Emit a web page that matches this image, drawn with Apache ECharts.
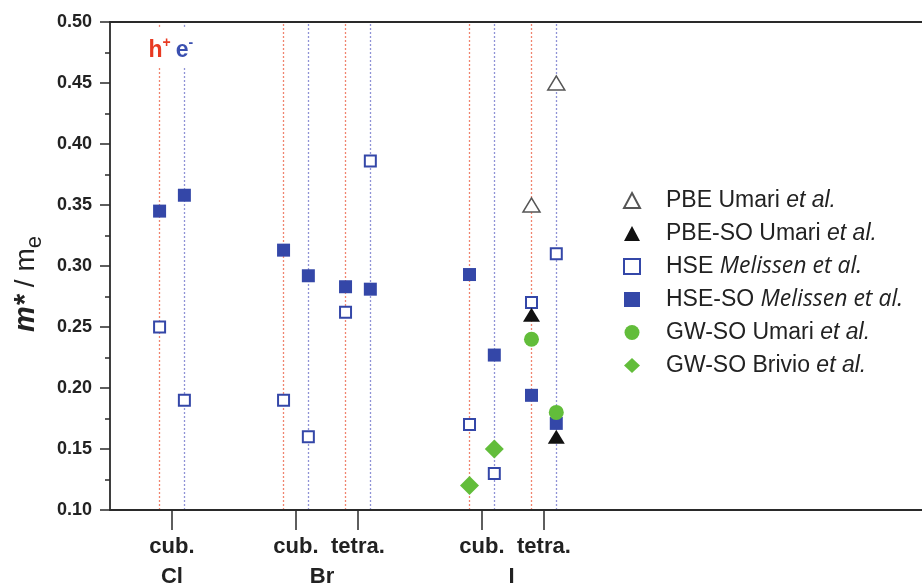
<!DOCTYPE html>
<html>
<head>
<meta charset="utf-8">
<script src="https://cdn.jsdelivr.net/npm/echarts@6/dist/echarts.min.js"></script>
<style>html,body{margin:0;padding:0;background:#fff}#c{width:922px;height:588px}</style>
</head>
<body>
<div id="c"></div>
<script>
// ---- data ----
const structureLabels = ['cub.', 'cub.', 'tetra.', 'cub.', 'tetra.'];
const structurePos = [1, 3, 4, 6, 7];
const halideLabels = ['Cl', 'Br', 'I'];
const halidePos = [1, 3.42, 6.48];
const carriers = ['h', 'e'];           // each structure: hole (red) then electron (blue)
const carrierShift = [-0.2, 0.2];
// columns: Cl-cub h,e | Br-cub h,e | Br-tetra h,e | I-cub h,e | I-tetra h,e
const pbeUmari     = [null, null, null, null, null, null, null, null, 0.35, 0.45];
const pbeSoUmari   = [null, null, null, null, null, null, null, null, 0.26, 0.16];
const hseMelissen  = [0.25, 0.19, 0.19, 0.16, 0.262, 0.386, 0.17, 0.13, 0.27, 0.31];
const hseSoMelissen= [0.345, 0.358, 0.313, 0.292, 0.283, 0.281, 0.293, 0.227, 0.194, 0.171];
const gwSoUmari    = [null, null, null, null, null, null, null, null, 0.24, 0.18];
const gwSoBrivio   = [null, null, null, null, null, null, 0.12, 0.15, null, null];

// column x positions
const colX = [];
structurePos.forEach(p => carrierShift.forEach(s => colX.push(p + s)));
function toPts(arr) {
  const out = [];
  arr.forEach((v, i) => { if (v != null) out.push([colX[i], v]); });
  return out;
}

const RED = '#f0846f', BLUE = '#8f92d6';
const blue = '#3447a8', green = '#62bd3a';

// guide lines
const guideLines = [];
colX.forEach((x, i) => {
  const col = i % 2 === 0 ? RED : BLUE;
  const ls = { color: col, type: [2, 2], width: 1.3 };
  if (i < 2) {
    guideLines.push([{ coord: [x, 0.10], lineStyle: ls }, { coord: [x, 0.463] }]);
    guideLines.push([{ coord: [x, 0.496], lineStyle: ls }, { coord: [x, 0.50] }]);
  } else {
    guideLines.push([{ coord: [x, 0.10], lineStyle: ls }, { coord: [x, 0.50] }]);
  }
});

const legendNames = {
  'PBE Umari': '{sp|}PBE Umari {i|et al.}',
  'PBE-SO Umari': '{sp|}PBE-SO Umari {i|et al.}',
  'HSE Melissen': '{sp|}HSE {m|Melissen et al.}',
  'HSE-SO Melissen': '{sp|}HSE-SO {m|Melissen et al.}',
  'GW-SO Umari': '{sp|}GW-SO Umari {i|et al.}',
  'GW-SO Brivio': '{sp|}GW-SO Brivio {i|et al.}'
};

const chart = echarts.init(document.getElementById('c'), null, { renderer: 'canvas' });
const txt = '#222';
chart.setOption({
  animation: false,
  backgroundColor: '#fff',
  grid: { left: 110, top: 22, right: 0, bottom: 74 },
  legend: {
    data: Object.keys(legendNames),
    orient: 'vertical',
    left: 618, top: 184,
    itemWidth: 16, itemHeight: 15, itemGap: 10,
    formatter: n => legendNames[n],
    textStyle: {
      fontFamily: 'Liberation Sans, Arial', fontSize: 23, color: txt, lineHeight: 22,
      rich: {
        sp: { width: 21, lineHeight: 22 },
        i: { fontStyle: 'italic', fontSize: 23, lineHeight: 22, fontFamily: 'Liberation Sans, Arial', color: txt },
        m: { fontStyle: 'italic', fontSize: 23, lineHeight: 22, fontFamily: 'Open Sans, Liberation Sans', color: txt }
      }
    },
    selectedMode: false
  },
  xAxis: [
    {
      type: 'value', min: 0, max: 13.1, position: 'bottom',
      axisLine: { show: true, onZero: false, lineStyle: { color: '#2a2a2a', width: 1.8 } },
      axisTick: { show: true, customValues: structurePos, length: 20, lineStyle: { color: '#2a2a2a', width: 1.5 } },
      axisLabel: {
        customValues: structurePos, margin: 26,
        formatter: v => structureLabels[structurePos.indexOf(v)] || '',
        fontFamily: 'Liberation Sans, Arial', fontWeight: 'bold', fontSize: 22, color: txt
      },
      splitLine: { show: false }
    },
    {
      type: 'value', min: 0, max: 13.1, position: 'bottom',
      axisLine: { show: false }, axisTick: { show: false },
      axisLabel: {
        customValues: halidePos, margin: 56,
        formatter: v => halideLabels[halidePos.indexOf(v)] || '',
        fontFamily: 'Liberation Sans, Arial', fontWeight: 'bold', fontSize: 22, color: txt
      },
      splitLine: { show: false }
    },
    {
      type: 'value', min: 0, max: 13.1, position: 'top',
      axisLine: { show: true, onZero: false, lineStyle: { color: '#2a2a2a', width: 1.8 } },
      axisTick: { show: false }, axisLabel: { show: false }, splitLine: { show: false }
    }
  ],
  yAxis: {
    type: 'value', min: 0.10, max: 0.50, interval: 0.05,
    axisLine: { show: true, onZero: false, lineStyle: { color: '#2a2a2a', width: 1.8 } },
    axisTick: { show: true, length: 10, lineStyle: { color: '#2a2a2a', width: 1.5 } },
    minorTick: { show: true, splitNumber: 2, length: 5, lineStyle: { color: '#2a2a2a', width: 1.5 } },
    axisLabel: {
      margin: 18, formatter: v => v.toFixed(2),
      fontFamily: 'Liberation Sans, Arial', fontWeight: 'bold', fontSize: 18, color: txt
    },
    splitLine: { show: false },
    name: '{b|m*}{n| / m}{s|e}',
    nameLocation: 'middle', nameRotate: 90, nameGap: 63,
    nameTextStyle: {
      padding: [0, 36, 0, 0],
      rich: {
        b: { fontFamily: 'Liberation Sans, Arial', fontStyle: 'italic', fontWeight: 'bold', fontSize: 29, color: txt, lineHeight: 36, verticalAlign: 'bottom' },
        n: { fontFamily: 'Liberation Sans, Arial', fontSize: 28, color: txt, lineHeight: 36, verticalAlign: 'bottom' },
        s: { fontFamily: 'Liberation Sans, Arial', fontSize: 22, color: txt, lineHeight: 36, verticalAlign: 'bottom', padding: [0, 0, -6, 0] }
      }
    }
  },
  series: [
    {
      name: 'guides', type: 'scatter', z: 1, silent: true,
      symbolSize: 0,
      itemStyle: { opacity: 1 },
      data: [[colX[0], 0.478, 'h'], [colX[1], 0.478, 'e']],
      label: {
        show: true, position: 'inside', opacity: 1,
        formatter: p => p.value[2] === 'h' ? '{h|h}{hs|+}' : '{e|e}{es|-}',
        rich: {
          h: { color: '#e83a22', fontFamily: 'Liberation Sans, Arial', fontWeight: 'bold', fontSize: 23, lineHeight: 26, verticalAlign: 'bottom' },
          hs: { color: '#e83a22', fontFamily: 'Liberation Sans, Arial', fontWeight: 'bold', fontSize: 14, lineHeight: 26, verticalAlign: 'top', padding: [0, 0, 6, 0] },
          e: { color: '#3a50b0', fontFamily: 'Liberation Sans, Arial', fontWeight: 'bold', fontSize: 23, lineHeight: 26, verticalAlign: 'bottom' },
          es: { color: '#3a50b0', fontFamily: 'Liberation Sans, Arial', fontWeight: 'bold', fontSize: 14, lineHeight: 26, verticalAlign: 'top', padding: [0, 0, 6, 0] }
        }
      },
      markLine: { silent: true, z: 0, symbol: ['none', 'none'], label: { show: false }, data: guideLines, animation: false }
    },
    {
      name: 'PBE Umari', type: 'scatter', z: 3, data: toPts(pbeUmari),
      symbol: 'triangle', symbolSize: [17, 14],
      itemStyle: { color: '#fff', borderColor: '#555', borderWidth: 1.5, opacity: 1 }
    },
    {
      name: 'PBE-SO Umari', type: 'scatter', z: 6, data: toPts(pbeSoUmari),
      symbol: 'triangle', symbolSize: [17, 14],
      itemStyle: { color: '#111', opacity: 1 }
    },
    {
      name: 'HSE Melissen', type: 'scatter', z: 3, data: toPts(hseMelissen),
      symbol: 'rect', symbolSize: 11,
      itemStyle: { color: '#fff', borderColor: blue, borderWidth: 2, opacity: 1 }
    },
    {
      name: 'HSE-SO Melissen', type: 'scatter', z: 3, data: toPts(hseSoMelissen),
      symbol: 'rect', symbolSize: 13,
      itemStyle: { color: blue, opacity: 1 }
    },
    {
      name: 'GW-SO Umari', type: 'scatter', z: 5, data: toPts(gwSoUmari),
      symbol: 'circle', symbolSize: 15,
      itemStyle: { color: green, opacity: 1 }
    },
    {
      name: 'GW-SO Brivio', type: 'scatter', z: 5, data: toPts(gwSoBrivio),
      symbol: 'diamond', symbolSize: 19,
      itemStyle: { color: green, opacity: 1 }
    }
  ]
});
</script>
</body>
</html>
